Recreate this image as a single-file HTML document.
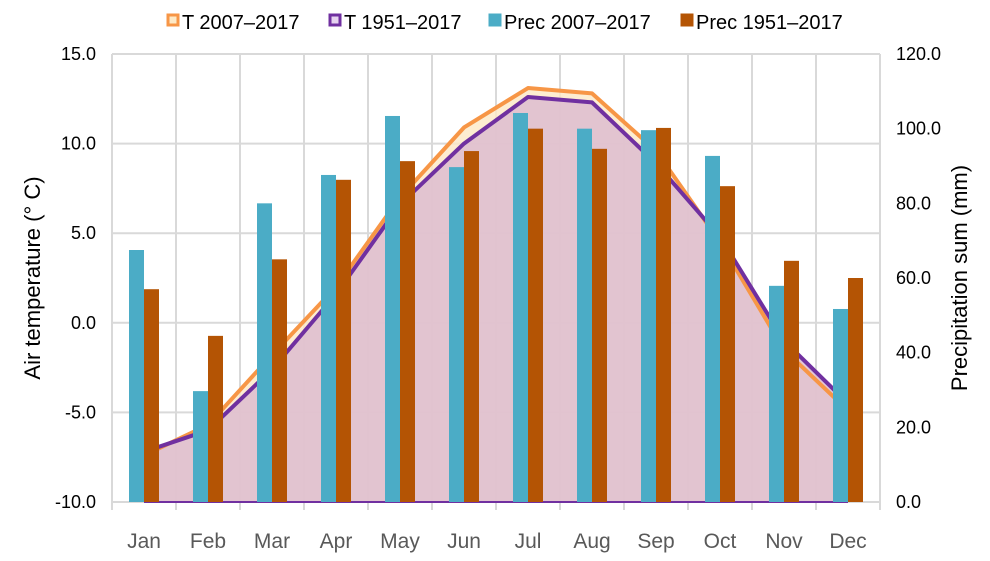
<!DOCTYPE html>
<html><head><meta charset="utf-8"><style>
html,body{margin:0;padding:0;background:#fff;overflow:hidden}
svg{display:block;font-family:"Liberation Sans",sans-serif}
</style></head><body>
<svg id="c" width="990" height="561"></svg>
<script>
const months=["Jan","Feb","Mar","Apr","May","Jun","Jul","Aug","Sep","Oct","Nov","Dec"];
const t2007=[-7.4,-5.7,-1.8,2.0,7.0,10.9,13.1,12.8,9.6,4.5,-1.5,-4.9];
const t1951=[-7.2,-6.0,-2.6,1.6,6.6,10.0,12.6,12.3,8.9,4.8,-1.0,-4.5];
const prec2007=[67.5,29.7,80,87.6,103.4,89.7,104.2,100,99.6,92.7,57.9,51.7];
const prec1951=[57,44.5,65,86.3,91.3,94,100,94.6,100.2,84.6,64.6,60];
const leftTicks=["15.0","10.0","5.0","0.0","-5.0","-10.0"];
const rightTicks=["120.0","100.0","80.0","60.0","40.0","20.0","0.0"];
const NS="http://www.w3.org/2000/svg",svg=document.getElementById('c');
const X0=112,X1=880,Y0=54,Y1=502,cw=(X1-X0)/12;
const xc=i=>X0+(i+0.5)*cw;
const yT=t=>Y0+(15-t)*(Y1-Y0)/25;
const yP=p=>Y1-p*(Y1-Y0)/120;
function mk(tag,at,txt){const e=document.createElementNS(NS,tag);for(const k in at)e.setAttribute(k,at[k]);if(txt!==undefined)e.textContent=txt;svg.appendChild(e);return e;}
for(let i=0;i<=5;i++){const y=Y0+i*(Y1-Y0)/5;
const g=mk('line',{x1:X0,x2:X1,y1:y,y2:y,stroke:'#d9d9d9','stroke-width':2});

}
for(let i=0;i<=12;i++){const x=X0+i*cw;
const g=mk('line',{x1:x,x2:x,y1:Y0,y2:510,stroke:'#d9d9d9','stroke-width':2});

}
function pts(arr){return arr.map((t,i)=>xc(i)+','+yT(t)).join(' ');}
const a1=mk('polygon',{points:xc(0)+','+Y1+' '+pts(t2007)+' '+xc(11)+','+Y1,fill:'#fde9c6','fill-opacity':0.8});


const a2=mk('polygon',{points:xc(0)+','+Y1+' '+pts(t1951)+' '+xc(11)+','+Y1,fill:'#ddbcd0','fill-opacity':0.85});


const l1=mk('polyline',{points:pts(t2007),fill:'none',stroke:'#f79646','stroke-width':4,'stroke-linejoin':'round'});


const l2=mk('polyline',{points:pts(t1951),fill:'none',stroke:'#7030a0','stroke-width':4,'stroke-linejoin':'round'});


const bl=mk('line',{x1:xc(0),x2:xc(11),y1:Y1,y2:Y1,stroke:'#7030a0','stroke-width':2});


months.forEach((m,i)=>{
const b1=mk('rect',{x:xc(i)-15,y:yP(prec2007[i]),width:15,height:Y1-yP(prec2007[i]),fill:'#4bacc6'});


const b2=mk('rect',{x:xc(i),y:yP(prec1951[i]),width:15,height:Y1-yP(prec1951[i]),fill:'#b45404'});


const t=mk('text',{x:xc(i),y:548,'text-anchor':'middle','font-size':21,fill:'#595959'},m);


});
leftTicks.forEach((s,i)=>{const t=mk('text',{x:96,y:Y0+i*(Y1-Y0)/5+6,'text-anchor':'end','font-size':18,fill:'#000'},s);

});
rightTicks.forEach((s,i)=>{const t=mk('text',{x:896,y:Y0+i*(Y1-Y0)/6+6,'text-anchor':'start','font-size':18,fill:'#000'},s);

});
const lt=mk('text',{x:0,y:0,transform:'translate(40,278) rotate(-90)','text-anchor':'middle','font-size':22},'Air temperature (° C)');


const rt=mk('text',{x:0,y:0,transform:'translate(967,278) rotate(-90)','text-anchor':'middle','font-size':22},'Precipitation sum (mm)');


const leg=[["T 2007–2017",168,'#f79646','#fde9c6'],["T 1951–2017",330,'#7030a0','#e6d3ef'],["Prec 2007–2017",490,'#4bacc6','#4bacc6'],["Prec 1951–2017",682,'#b45404','#b45404']];
leg.forEach(l=>{
const r=mk('rect',{x:l[1],y:15,width:10,height:10,fill:l[3],stroke:l[2],'stroke-width':3});


const t=mk('text',{x:l[1]+14,y:29,'font-size':20},l[0]);


});
</script>
</body></html>
